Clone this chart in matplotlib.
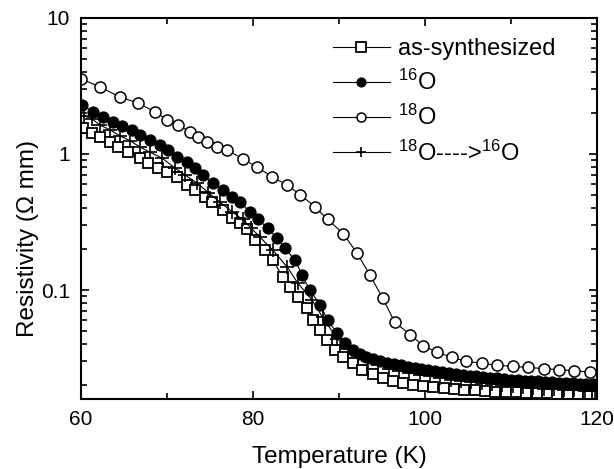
import matplotlib
matplotlib.use("Agg")
import matplotlib.pyplot as plt
from matplotlib.ticker import LogLocator, MultipleLocator, NullFormatter, FixedLocator, FixedFormatter

plt.rcParams['font.family'] = ['Liberation Sans', 'DejaVu Sans']
plt.rcParams['mathtext.fontset'] = 'custom'
plt.rcParams['mathtext.rm'] = 'Liberation Sans'
plt.rcParams['mathtext.it'] = 'Liberation Sans'

# as-synthesized (open squares)
t_as = [60.2, 61.3, 62.2, 63.4, 64.3, 65.5, 66.9, 67.8, 69.0, 70.0, 71.2, 72.3, 73.3,
        74.4, 75.2, 76.5, 77.6, 78.5, 79.3, 80.2, 81.4, 82.3, 83.5, 84.3, 85.2, 86.3,
        87.0, 87.8, 88.6, 89.5, 90.5, 91.6, 92.7, 94.0, 95.1, 96.3, 97.5, 98.6, 99.8,
        101.0, 102.2, 103.4, 104.6, 105.8, 107.0, 108.2, 109.4, 110.6, 111.8, 113.0,
        114.2, 115.4, 116.6, 117.8, 119.0, 120.0]
r_as = [1.55, 1.43, 1.33, 1.22, 1.13, 1.03, 0.935, 0.86, 0.79, 0.74, 0.68, 0.59, 0.54,
        0.48, 0.44, 0.39, 0.34, 0.31, 0.28, 0.235, 0.197, 0.166, 0.124, 0.105, 0.089, 0.074,
        0.060, 0.051, 0.043, 0.036, 0.032, 0.029, 0.026, 0.024, 0.0225, 0.0215, 0.0208, 0.0202, 0.0197,
        0.0193, 0.019, 0.0187, 0.0185, 0.0183, 0.0181, 0.0179, 0.0178, 0.0177, 0.0176, 0.0175,
        0.0174, 0.0173, 0.0172, 0.0171, 0.0170, 0.0170]

# 16O (filled circles)
t_16 = [60.1, 61.4, 62.6, 63.7, 64.8, 65.9, 66.9, 68.0, 69.2, 70.1, 71.2, 72.3, 73.3,
        74.2, 75.3, 76.5, 77.6, 78.5, 79.7, 80.6, 81.7, 82.8, 83.7, 84.9, 85.7, 86.6,
        87.8, 88.7, 89.8, 90.7, 91.6, 92.4, 93.2, 94.0, 94.8, 95.6, 96.4, 97.2, 98.0,
        98.8, 99.6, 100.4, 101.2, 102.0, 102.8, 103.6, 104.4, 105.2, 106.0, 106.8, 107.6,
        108.4, 109.2, 110.0, 110.8, 111.6, 112.4, 113.2, 114.0, 114.8, 115.6, 116.4,
        117.2, 118.0, 118.8, 119.6]
r_16 = [2.29, 2.04, 1.87, 1.72, 1.61, 1.50, 1.38, 1.27, 1.16, 1.07, 0.95, 0.87, 0.79,
        0.70, 0.61, 0.54, 0.48, 0.44, 0.375, 0.33, 0.286, 0.24, 0.204, 0.166, 0.129, 0.100,
        0.078, 0.060, 0.048, 0.041, 0.036, 0.034, 0.032, 0.031, 0.030, 0.0293, 0.0286, 0.028, 0.0274,
        0.0268, 0.0262, 0.0257, 0.0253, 0.0249, 0.0245, 0.0241, 0.0238, 0.0235, 0.0232, 0.0229, 0.0226,
        0.0224, 0.0222, 0.022, 0.0218, 0.0216, 0.0214, 0.0213, 0.0211, 0.021, 0.0208, 0.0207,
        0.0206, 0.0205, 0.0204, 0.0203]

# 18O (open circles)
t_18 = [60.0, 62.2, 64.5, 66.6, 68.6, 70.0, 71.3, 72.7, 73.6, 74.7, 75.8, 77.0, 78.8,
        80.5, 82.2, 84.0, 85.5, 87.2, 88.7, 90.5, 92.1, 93.6, 95.1, 96.5, 98.3, 99.8,
        101.4, 103.1, 104.8, 106.6, 108.4, 110.2, 112.0, 113.8, 115.6, 117.4, 119.2]
r_18 = [3.56, 3.11, 2.62, 2.37, 2.04, 1.78, 1.63, 1.45, 1.33, 1.22, 1.13, 1.07, 0.92,
        0.80, 0.68, 0.59, 0.50, 0.41, 0.33, 0.26, 0.187, 0.129, 0.087, 0.058, 0.047, 0.039,
        0.035, 0.032, 0.030, 0.029, 0.028, 0.0275, 0.027, 0.0265, 0.026, 0.0255, 0.025]

# 18O ----> 16O (crosses)
t_back = [60.4, 61.3, 62.2, 63.4, 64.5, 65.7, 66.9, 68.0, 69.4, 70.9, 72.1, 73.5, 74.8,
          76.2, 77.6, 78.8, 79.8, 80.8, 82.3, 84.0, 85.2, 86.9, 88.1, 89.8, 91.0, 92.2,
          93.4, 94.6, 95.8, 97.0, 98.2, 99.4, 100.6, 101.8, 103.0, 104.2, 105.4, 106.6,
          107.8, 109.0, 110.2, 111.4, 112.6, 113.8, 115.0, 116.2, 117.4, 118.6, 119.8]
r_back = [1.90, 1.80, 1.63, 1.50, 1.36, 1.25, 1.12, 1.03, 0.935, 0.79, 0.70, 0.61, 0.52,
          0.44, 0.375, 0.33, 0.285, 0.245, 0.197, 0.147, 0.113, 0.084, 0.063, 0.044, 0.037, 0.033,
          0.030, 0.028, 0.0265, 0.0255, 0.0246, 0.0238, 0.0232, 0.0226, 0.022, 0.0215, 0.0211, 0.0207,
          0.0203, 0.020, 0.0197, 0.0194, 0.0191, 0.0189, 0.0187, 0.0185, 0.0183, 0.0181, 0.018]

labels = ['as-synthesized', r'$^{16}$O', r'$^{18}$O', r'$^{18}$O---->$^{16}$O']

fig = plt.figure(figsize=(6.14, 4.69), dpi=100)
ax = fig.add_axes([0.132, 0.149, 0.840, 0.813])

ax.plot(t_as, r_as, '-', color='black', lw=0.8, marker='s', ms=7.5, mfc='white',
        mec='black', mew=1.3, label=labels[0])
ax.plot(t_16, r_16, '-', color='black', lw=0.8, marker='o', ms=8, mfc='black',
        mec='black', mew=0.8, label=labels[1])
ax.plot(t_18, r_18, '-', color='black', lw=0.8, marker='o', ms=8, mfc='white',
        mec='black', mew=1.1, label=labels[2])
ax.plot(t_back, r_back, '-', color='black', lw=0.8, marker='+', ms=9.5, mew=1.2,
        label=labels[3])

ax.set_yscale('log')
ax.set_xlim(60, 120)
ax.set_ylim(0.0158, 10)

ax.xaxis.set_major_locator(MultipleLocator(20))
ax.xaxis.set_minor_locator(MultipleLocator(10))
ax.yaxis.set_major_locator(FixedLocator([0.1, 1, 10]))
ax.yaxis.set_major_formatter(FixedFormatter(['0.1', '1', '10']))
ax.yaxis.set_minor_locator(LogLocator(base=10, subs=range(2, 10)))
ax.yaxis.set_minor_formatter(NullFormatter())

ax.tick_params(which='both', direction='in', top=True, right=True, labelsize=15, width=1.2)
ax.tick_params(which='major', length=6, pad=8)
ax.tick_params(which='minor', length=4)
for s in ax.spines.values():
    s.set_linewidth(1.5)

ax.set_xlabel('Temperature (K)', fontsize=17.5, labelpad=12)
ax.set_ylabel('Resistivity (\u03a9 mm)', fontsize=17.5)
ax.yaxis.set_label_coords(-0.082, 0.42)

leg = ax.legend(loc='upper right', frameon=False, fontsize=17, handlelength=2.4,
                handletextpad=0.35, labelspacing=0.42, borderaxespad=0.3,
                bbox_to_anchor=(0.952, 0.99))
for h in leg.legend_handles:
    h.set_markersize(6.5)
    h.set_linewidth(0.8)

fig.savefig('out.png', dpi=100)
